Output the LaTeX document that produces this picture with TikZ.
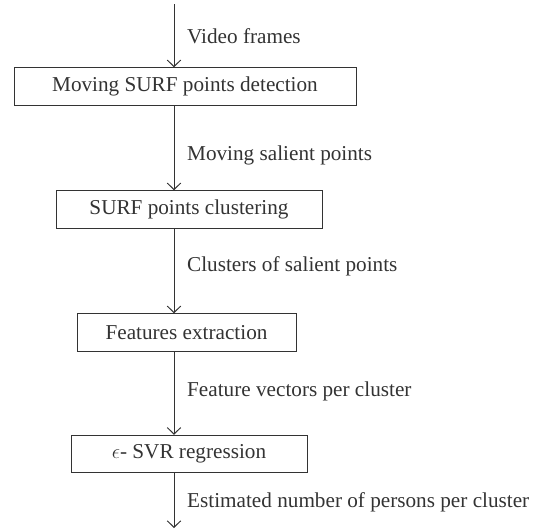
\documentclass[tikz,border=0pt]{standalone}
\usepackage{fontspec}
\setmainfont{Liberation Serif}
\usetikzlibrary{arrows.meta}
\definecolor{ink}{HTML}{333333}
\tikzset{
  box/.style={draw=ink, line width=1pt, minimum height=37.5pt, inner sep=0pt, text=ink, font=\fontsize{21.2}{25}\selectfont},
  lbl/.style={anchor=base west, inner sep=0pt, text=ink, font=\fontsize{21.2}{25}\selectfont},
  arr/.style={draw=ink, line width=1pt, -{Straight Barb[length=6.5pt,width=13.5pt,line width=1pt]}}
}
\begin{document}
\begin{tikzpicture}[x=1pt,y=-1pt]
\useasboundingbox (0,0) rectangle (538,531);
\node[box, minimum width=342pt] (b1) at (185,86.5) {Moving SURF points detection};
\node[box, minimum width=266pt] (b2) at (189,209.5) {SURF points clustering};
\node[box, minimum width=219pt] (b3) at (186.5,332.5) {Features extraction};
\node[box, minimum width=236pt] (b4) at (189,454) {$\epsilon$- SVR regression};
\coordinate (in) at (174,4);
\coordinate (out) at (174,528);
\draw[arr] (in) -- (in |- b1.north);
\draw[arr] (b1.south -| in) -- (b2.north -| in);
\draw[arr] (b2.south -| in) -- (b3.north -| in);
\draw[arr] (b3.south -| in) -- (b4.north -| in);
\draw[arr] (b4.south -| in) -- (out);
\node[lbl] (l1) at (187,43) {Video frames};
\node[lbl] (l2) at (187,160) {Moving salient points};
\node[lbl] (l3) at (187,271) {Clusters of salient points};
\node[lbl] (l4) at (187,396) {Feature vectors per cluster};
\node[lbl] (l5) at (187,507) {Estimated number of persons per cluster};
\end{tikzpicture}
\end{document}
